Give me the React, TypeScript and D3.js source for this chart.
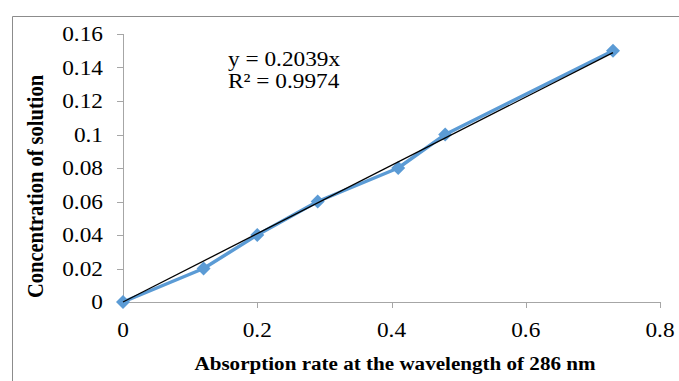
import React from "react";
import * as d3 from "d3";

const absorbance = [0, 0.12, 0.2, 0.29, 0.41, 0.48, 0.73];
const concentration = [0, 0.02, 0.04, 0.06, 0.08, 0.1, 0.15];
const xTicks = [0, 0.2, 0.4, 0.6, 0.8];
const yTicks = [0, 0.02, 0.04, 0.06, 0.08, 0.1, 0.12, 0.14, 0.16];
const slope = 0.2039;
const equationLines = ["y = 0.2039x", "R² = 0.9974"];
const xTitle = "Absorption rate at the wavelength of 286 nm";
const yTitle = "Concentration of solution";

const W = 679;
const H = 381;
const FONT = "'Liberation Serif', 'Times New Roman', serif";
const SX = 1.11; // horizontal stretch of the reference's text

function T({
  x,
  y,
  anchor = "start",
  size,
  bold = false,
  children,
}: {
  x: number;
  y: number;
  anchor?: "start" | "middle" | "end";
  size: number;
  bold?: boolean;
  children: React.ReactNode;
}) {
  return (
    <text
      transform={`translate(${x},${y}) scale(${SX},1)`}
      textAnchor={anchor}
      fontFamily={FONT}
      fontSize={size}
      fontWeight={bold ? "bold" : "normal"}
      fill="#000"
    >
      {children}
    </text>
  );
}

export default function App() {
  const x = d3.scaleLinear().domain([0, 0.8]).range([123, 660]);
  const y = d3.scaleLinear().domain([0, 0.16]).range([302, 34]);
  const pts = absorbance.map((a, i) => [a, concentration[i]] as [number, number]);
  const line = d3
    .line<[number, number]>()
    .x((d) => x(d[0]))
    .y((d) => y(d[1]));
  const xMax = d3.max(absorbance) as number;
  const trend: [number, number][] = [
    [0, 0],
    [xMax, slope * xMax],
  ];
  const diamond = "M0,-7L7,0L0,7L-7,0Z";
  const fmt = (v: number) => String(+v.toFixed(2));

  return (
    <div style={{ position: "absolute", left: 0, top: 0 }}>
      <svg width={W} height={H} style={{ display: "block", background: "#fff" }}>
        <path d={`M12.5,${H}V16.5H${W}`} fill="none" stroke="#8c8c8c" strokeWidth={1} />
        {/* y axis */}
        <line x1={x(0) + 0.5} x2={x(0) + 0.5} y1={y(0.16)} y2={y(0)} stroke="#a6a6a6" strokeWidth={1} />
        {yTicks.map((t) => (
          <g key={"y" + t}>
            <line x1={x(0) - 6} x2={x(0)} y1={Math.round(y(t)) + 0.5} y2={Math.round(y(t)) + 0.5} stroke="#a6a6a6" />
            <T x={103} y={y(t) + 7} anchor="end" size={21}>
              {fmt(t)}
            </T>
          </g>
        ))}
        {/* x axis */}
        <line x1={x(0)} x2={x(0.8)} y1={y(0) + 0.5} y2={y(0) + 0.5} stroke="#a6a6a6" strokeWidth={1} />
        {xTicks.map((t) => (
          <g key={"x" + t}>
            <line x1={Math.round(x(t)) + 0.5} x2={Math.round(x(t)) + 0.5} y1={y(0)} y2={y(0) + 6} stroke="#a6a6a6" />
            <T x={x(t)} y={337} anchor="middle" size={21}>
              {fmt(t)}
            </T>
          </g>
        ))}
        {/* data series */}
        <path d={line(pts) || ""} fill="none" stroke="#5B9BD5" strokeWidth={3.5} strokeLinejoin="round" />
        {pts.map((p, i) => (
          <path key={"m" + i} d={diamond} transform={`translate(${x(p[0])},${y(p[1])})`} fill="#5B9BD5" />
        ))}
        {/* trendline */}
        <path d={line(trend) || ""} fill="none" stroke="#000" strokeWidth={1.3} />
        {/* equation */}
        {equationLines.map((s, i) => (
          <T key={"e" + i} x={228} y={66 + i * 22} size={21}>
            {s}
          </T>
        ))}
        {/* titles */}
        <T x={395} y={370} anchor="middle" size={19} bold>
          {xTitle}
        </T>
        <text
          transform={`translate(43,186.5) rotate(-90) scale(1,${SX})`}
          textAnchor="middle"
          fontFamily={FONT}
          fontSize={20.5}
          fontWeight="bold"
          fill="#000"
        >
          {yTitle}
        </text>
      </svg>
    </div>
  );
}
